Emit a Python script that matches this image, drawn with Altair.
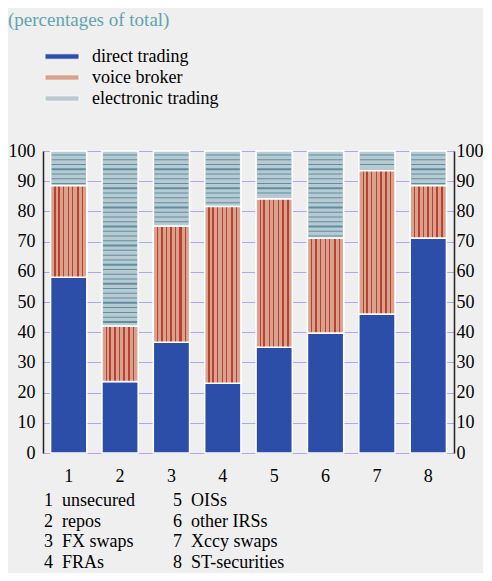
import altair as alt
import pandas as pd

# ---- data ----
categories = ["1", "2", "3", "4", "5", "6", "7", "8"]
direct = [58.2, 23.7, 36.7, 23.1, 35.0, 39.7, 46.0, 71.2]
voice = [30.3, 18.3, 38.4, 58.5, 49.1, 31.4, 47.5, 17.3]
electronic = [11.5, 58.0, 24.9, 18.4, 15.9, 28.9, 6.5, 11.5]
series_names = ["direct trading", "voice broker", "electronic trading"]
y_ticks = [0, 10, 20, 30, 40, 50, 60, 70, 80, 90, 100]
key_numbers = ["1", "2", "3", "4", "5", "6", "7", "8"]
key_names = ["unsecured", "repos", "FX swaps", "FRAs",
             "OISs", "other IRSs", "Xccy swaps", "ST-securities"]

# ---- styles ----
FONT = "Liberation Serif"
BLUE = "#2c4ea8"
SALMON = "#d8a28e"
RED = "#b9412f"
ELEC = "#b7c9d1"
ELEC_LINE = "#5e8fa0"
GRID = "#aaaae8"
BG = "#efefef"
TEAL = "#5fa4ad"
FS = 18

rows = []
for i, c in enumerate(categories):
    s = 0.0
    for name, vals in zip(series_names, [direct, voice, electronic]):
        rows.append({"cat": c, "series": name, "start": s, "end": s + vals[i]})
        s += vals[i]
df = pd.DataFrame(rows)
cat_df = pd.DataFrame({"cat": categories})

# vertical stripe pattern for voice broker bars (gradient with hard stops)
stripe_pattern = [(0.12, 0.016), (0.23, 0.028), (0.36, 0.016), (0.49, 0.016),
                  (0.61, 0.016), (0.75, 0.028), (0.88, 0.016)]
stops = [alt.GradientStop(offset=0, color=SALMON)]
for c, w in stripe_pattern:
    stops += [alt.GradientStop(offset=c - w, color=SALMON),
              alt.GradientStop(offset=c - w, color=RED),
              alt.GradientStop(offset=c + w, color=RED),
              alt.GradientStop(offset=c + w, color=SALMON)]
stops.append(alt.GradientStop(offset=1, color=SALMON))
voice_fill = alt.LinearGradient(gradient="linear", stops=stops, x1=0, x2=1, y1=0, y2=0)

BAND = 0.705
x_scale = alt.Scale(paddingInner=0, paddingOuter=0)
y_scale = alt.Scale(domain=[0, 100], nice=False)

x_main = alt.X("cat:N", sort=categories, scale=x_scale, title=None,
               axis=alt.Axis(labels=False, tickBand="extent", tickSize=7,
                             tickColor="black", tickWidth=1.5,
                             domainColor="black", domainWidth=1.5,
                             grid=True, gridColor=GRID, gridWidth=1))
x_plain = alt.X("cat:N", sort=categories, scale=x_scale, axis=None)

axis_common = dict(values=y_ticks, labelFont=FONT, labelFontSize=FS,
                   labelColor="black", ticks=False, domainColor="#222",
                   domainWidth=1.5, title=None)

base = alt.Chart(df).mark_bar(
    width=alt.RelativeBandSize(BAND), stroke="white", strokeWidth=1.5
).encode(
    x=x_main,
    y=alt.Y("start:Q", scale=y_scale,
            axis=alt.Axis(orient="left", grid=True, gridColor=GRID,
                          labelPadding=8, **axis_common)),
    y2="end:Q",
    color=alt.Color("series:N", sort=series_names,
                    scale=alt.Scale(domain=series_names, range=[BLUE, SALMON, ELEC]),
                    legend=alt.Legend(orient="none", legendX=10, legendY=-103.5,
                                      title=None, direction="vertical",
                                      symbolType="M-3,-0.47L3,-0.47L3,0.47L-3,0.47Z",
                                      symbolSize=128, symbolStrokeColor="white",
                                      symbolStrokeWidth=0.8, symbolOpacity=1,
                                      labelFont=FONT, labelFontSize=FS,
                                      labelColor="black", labelOffset=21,
                                      rowPadding=3)),
)

voice_bars = alt.Chart(df).transform_filter(
    alt.datum.series == "voice broker"
).mark_bar(
    width=alt.RelativeBandSize(BAND), stroke="white", strokeWidth=1.5, fill=voice_fill
).encode(
    x=x_plain,
    y=alt.Y("start:Q", scale=y_scale,
            axis=alt.Axis(orient="right", grid=False, labelPadding=2, **axis_common)),
    y2="end:Q",
)


def hatch(thick):
    return alt.Chart(df).transform_filter(
        alt.datum.series == "electronic trading"
    ).transform_calculate(
        k="sequence(0, 64)"
    ).transform_flatten(
        ["k"]
    ).transform_calculate(
        yy="98.7 - 1.58 * datum.k", thick="datum.k % 4 == 3"
    ).transform_filter(
        "datum.yy > datum.start + 0.6" + (" && datum.thick" if thick else " && !datum.thick")
    ).mark_tick(
        orient="horizontal", size=34, thickness=2 if thick else 1,
        color=ELEC_LINE, opacity=1
    ).encode(
        x=x_plain,
        y=alt.Y("yy:Q", scale=y_scale, axis=None),
    )


# category labels under the x axis
x_labels = alt.Chart(cat_df).mark_text(
    dy=24, baseline="middle", align="center", font=FONT, fontSize=FS, color="black"
).encode(
    x=x_plain,
    y=alt.YDatum(0, type="quantitative", scale=y_scale, axis=None),
    text="cat:N",
)

main = alt.layer(base, voice_bars, hatch(False), hatch(True), x_labels).resolve_scale(
    y="shared"
).resolve_axis(y="independent").properties(width=411, height=302)

key_df = pd.DataFrame({
    "num": key_numbers,
    "name": key_names,
    "col": [i // 4 for i in range(len(key_numbers))],
    "row": [i % 4 for i in range(len(key_numbers))],
})
key_base = alt.Chart(key_df).encode(
    x=alt.X("col:Q", scale=alt.Scale(domain=[0, 1], range=[1, 130]), axis=None),
    y=alt.Y("row:O", scale=alt.Scale(paddingInner=0, paddingOuter=0), axis=None),
)
key_nums = key_base.mark_text(align="left", baseline="middle", font=FONT,
                              fontSize=FS, color="black").encode(text="num:N")
key_text = key_base.mark_text(align="left", baseline="middle", dx=18, font=FONT,
                              fontSize=FS, color="black").encode(text="name:N")
key = alt.layer(key_nums, key_text).properties(width=411, height=82)

chart = alt.vconcat(main, key, spacing=5).properties(
    title=alt.TitleParams("(percentages of total)", anchor="start", font=FONT,
                          fontSize=19, fontWeight="normal", color=TEAL, offset=18),
    padding={"left": 0, "top": 2, "right": 0, "bottom": 0},
).configure(
    background=BG,
).configure_view(stroke=None)

chart.save("out.html", embed_options={"renderer": "svg", "actions": False})
